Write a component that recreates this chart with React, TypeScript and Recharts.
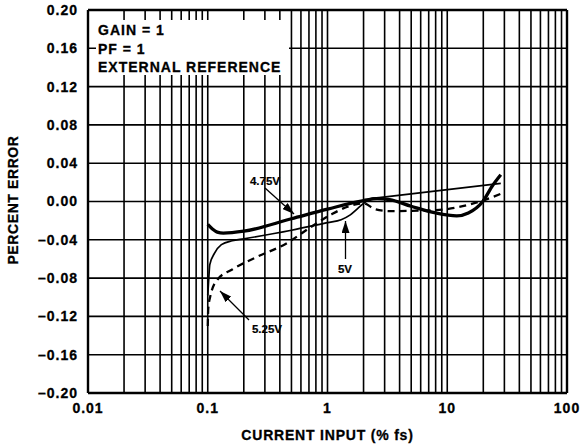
import React from 'react';
import { LineChart, Line, XAxis, YAxis, CartesianGrid, ReferenceLine } from 'recharts';

const xTicks = [0.01, 0.1, 1, 10, 100];
const yTicks = [-0.2, -0.16, -0.12, -0.08, -0.04, 0, 0.04, 0.08, 0.12, 0.16, 0.2];
const logGrid = [
  0.02, 0.03, 0.04, 0.05, 0.06, 0.07, 0.08, 0.09,
  0.2, 0.3, 0.4, 0.5, 0.6, 0.7, 0.8, 0.9,
  2, 3, 4, 5, 6, 7, 8, 9,
  20, 30, 40, 50, 60, 70, 80, 90,
];

const v475 = [
  { x: 0.1, y: -0.024 },
  { x: 0.11, y: -0.029 },
  { x: 0.12, y: -0.032 },
  { x: 0.135, y: -0.033 },
  { x: 0.2, y: -0.031 },
  { x: 0.5, y: -0.018 },
  { x: 1, y: -0.008 },
  { x: 2, y: 0.001 },
  { x: 2.6, y: 0.003 },
  { x: 3.3, y: 0.002 },
  { x: 5, y: -0.005 },
  { x: 8, y: -0.012 },
  { x: 12, y: -0.015 },
  { x: 15, y: -0.012 },
  { x: 19.8, y: 0.0 },
  { x: 24, y: 0.017 },
  { x: 28, y: 0.028 },
];

const v5 = [
  { x: 0.1, y: -0.098 },
  { x: 0.102, y: -0.08 },
  { x: 0.104, y: -0.066 },
  { x: 0.114, y: -0.054 },
  { x: 0.13, y: -0.045 },
  { x: 0.16, y: -0.041 },
  { x: 0.2, y: -0.039 },
  { x: 0.5, y: -0.03 },
  { x: 1, y: -0.022 },
  { x: 1.3, y: -0.019 },
  { x: 1.55, y: -0.014 },
  { x: 1.8, y: -0.007 },
  { x: 2.0, y: -0.002 },
  { x: 2.3, y: 0.003 },
  { x: 2.7, y: 0.004 },
  { x: 28, y: 0.019 },
];

const v525 = [
  { x: 0.1, y: -0.13 },
  { x: 0.101, y: -0.112 },
  { x: 0.105, y: -0.099 },
  { x: 0.11, y: -0.09 },
  { x: 0.12, y: -0.082 },
  { x: 0.16, y: -0.071 },
  { x: 0.256, y: -0.058 },
  { x: 0.45, y: -0.044 },
  { x: 0.72, y: -0.027 },
  { x: 1.06, y: -0.014 },
  { x: 1.5, y: -0.005 },
  { x: 2.0, y: -0.002 },
  { x: 2.5, y: -0.008 },
  { x: 3.3, y: -0.01 },
  { x: 8, y: -0.009 },
  { x: 18.7, y: 0.0 },
  { x: 28, y: 0.008 },
];

const FONT = '"Liberation Sans", Arial, Helvetica, sans-serif';

const fmtY = (v: number) => {
  const s = Math.abs(v).toFixed(2);
  return v < -1e-9 ? '\u2013' + s : s;
};
const fmtX = (v: number) => String(v);

const tickStyle = {
  fontFamily: FONT,
  fontWeight: 700,
  fontSize: 14,
  fill: '#000',
  stroke: '#000',
  strokeWidth: 0.3,
  letterSpacing: 1,
};

export default function App() {
  return (
    <div style={{ position: 'absolute', left: 0, top: 0, width: 582, height: 445, background: '#fff' }}>
      <LineChart width={582} height={445} margin={{ top: 10, right: 15, bottom: 0, left: 0 }}>
        <CartesianGrid horizontal vertical={false} stroke="#000" strokeWidth={1.6} />
        <XAxis
          type="number"
          dataKey="x"
          scale="log"
          domain={[0.01, 100]}
          ticks={xTicks}
          tickFormatter={fmtX}
          allowDataOverflow
          height={52}
          axisLine={false}
          tickLine={false}
          tickSize={0}
          tickMargin={10}
          tick={tickStyle}
          interval={0}
        />
        <YAxis
          type="number"
          domain={[-0.2, 0.2]}
          ticks={yTicks}
          tickFormatter={fmtY}
          width={88}
          axisLine={false}
          tickLine={false}
          tickSize={0}
          tickMargin={10}
          tick={tickStyle}
          interval={0}
          allowDataOverflow
        />
        {logGrid.map((v) => (
          <ReferenceLine key={'g' + v} x={v} stroke="#000" strokeWidth={1.6} ifOverflow="hidden" />
        ))}
        {xTicks.map((v) => (
          <ReferenceLine key={'d' + v} x={v} stroke="#000" strokeWidth={1.6} />
        ))}
        <ReferenceLine x={0.01} stroke="#000" strokeWidth={2.4} />
        <ReferenceLine x={100} stroke="#000" strokeWidth={2.4} />
        <ReferenceLine y={0.2} stroke="#000" strokeWidth={2.4} />
        <ReferenceLine y={-0.2} stroke="#000" strokeWidth={2.4} />
        <Line data={v5} dataKey="y" type="monotone" stroke="#000" strokeWidth={1.7} dot={false} isAnimationActive={false} />
        <Line data={v525} dataKey="y" type="monotone" stroke="#000" strokeWidth={2.3} strokeDasharray="7 5" dot={false} isAnimationActive={false} />
        <Line data={v475} dataKey="y" type="monotone" stroke="#000" strokeWidth={3.3} dot={false} isAnimationActive={false} />
      </LineChart>
      <svg
        width={582}
        height={445}
        style={{ position: 'absolute', left: 0, top: 0, pointerEvents: 'none' }}
      >
        <defs>
          <marker id="ah" viewBox="0 0 12 8" refX="12" refY="4" markerWidth="12" markerHeight="8" markerUnits="userSpaceOnUse" orient="auto">
            <path d="M0,0 L12,4 L0,8 z" fill="#000" />
          </marker>
        </defs>
        <rect x={96} y={20} width={193} height={55} fill="#fff" />
        <g fontFamily={FONT} fontWeight={700} fontSize={14} fill="#000" stroke="#000" strokeWidth={0.3} letterSpacing={1}>
          <text x={98} y={35}>GAIN = 1</text>
          <text x={98} y={53.5}>PF = 1</text>
          <text x={98} y={72}>EXTERNAL REFERENCE</text>
        </g>
        <g fontFamily={FONT} fontWeight={700} fontSize={11.5} fill="#000" stroke="#000" strokeWidth={0.2} textAnchor="middle">
          <text x={265} y={185}>4.75V</text>
          <text x={345} y={273}>5V</text>
          <text x={267} y={333}>5.25V</text>
        </g>
        <line x1={265} y1={188} x2={294} y2={214} stroke="#000" strokeWidth={1.3} markerEnd="url(#ah)" />
        <line x1={345.5} y1={259} x2={345.5} y2={221} stroke="#000" strokeWidth={1.3} markerEnd="url(#ah)" />
        <line x1={249} y1={320} x2={220} y2={291} stroke="#000" strokeWidth={1.3} markerEnd="url(#ah)" />
        <text
          x={327.5}
          y={440}
          textAnchor="middle"
          fontFamily={FONT}
          fontWeight={700}
          fontSize={14}
          letterSpacing={0.8}
          fill="#000"
          stroke="#000"
          strokeWidth={0.3}
        >
          CURRENT INPUT (% fs)
        </text>
        <text
          transform="translate(18,200) rotate(-90)"
          textAnchor="middle"
          fontFamily={FONT}
          fontWeight={700}
          fontSize={14}
          letterSpacing={0.6}
          fill="#000"
          stroke="#000"
          strokeWidth={0.3}
        >
          PERCENT ERROR
        </text>
      </svg>
    </div>
  );
}
